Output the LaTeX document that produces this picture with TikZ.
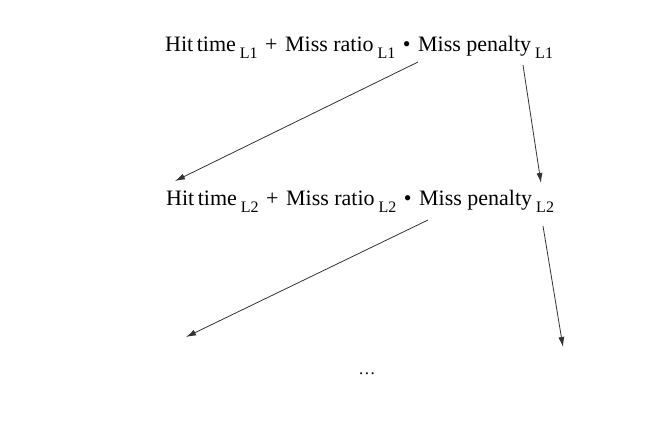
\documentclass[tikz,border=0pt]{standalone}
\usepackage{fontspec}
\setmainfont{Liberation Serif}
\usetikzlibrary{arrows.meta, positioning}
\newcommand{\lvl}[1]{\hspace{4pt}\raisebox{-7pt}{\fontsize{16}{16}\selectfont #1}}
\newcommand{\gap}{\hspace{7.5pt}}
\tikzset{
  formula/.style={anchor=base west, inner sep=0pt, font=\fontsize{22}{26}\selectfont},
  dots/.style={anchor=base, inner sep=0pt, font=\fontsize{17}{18}\selectfont},
  passon/.style={draw=black!80, line width=0.8pt, -{Latex[length=10pt, width=6pt]}},
}
\begin{document}
\begin{tikzpicture}[x=1pt, y=-1pt]
    \useasboundingbox (0,0) rectangle (661,445);
    % Formulas for the two levels
    \node[formula] (lone) at (165,51)
      {Hit\hspace{3.5pt}time\lvl{L1}\gap+\gap Miss ratio\lvl{L1}\gap\textbullet\gap Miss penalty\lvl{L1}};
    \node[formula] (ltwo) at (166,205)
      {Hit\hspace{3.5pt}time\lvl{L2}\gap+\gap Miss ratio\lvl{L2}\gap\textbullet\gap Miss penalty\lvl{L2}};
    \node[dots] (more) at (367,374) {.\hspace{1.5pt}.\hspace{1.5pt}.};
    % Arrow ends
    \coordinate (onemiss) at (418,62);
    \coordinate (onepen)  at (523,65);
    \coordinate (twohit)  at (175,181);
    \coordinate (twopen)  at (541,183);
    \coordinate (twomiss) at (428,220);
    \coordinate (twopen2) at (543,226);
    \coordinate (nexthit) at (186,337);
    \coordinate (nextpen) at (563,347);
    % Arrows
    \draw[passon] (onemiss) -- (twohit);
    \draw[passon] (onepen) -- (twopen);
    \draw[passon] (twomiss) -- (nexthit);
    \draw[passon] (twopen2) -- (nextpen);
\end{tikzpicture}
\end{document}
